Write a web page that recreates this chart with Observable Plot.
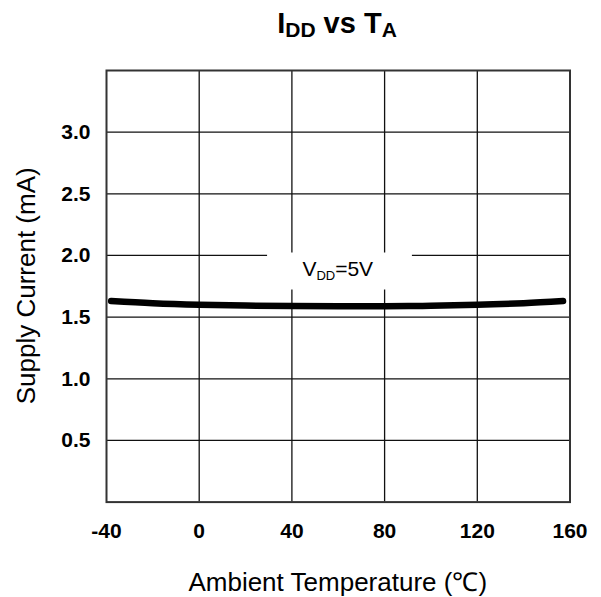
<!DOCTYPE html>
<html><head><meta charset="utf-8">
<script src="https://cdn.jsdelivr.net/npm/d3@7"></script>
<script src="https://cdn.jsdelivr.net/npm/@observablehq/plot@0.6"></script>
<style>
body{margin:0;background:#fff;font-family:"Liberation Sans",Arial,sans-serif}
svg{display:block}
</style>
</head><body>
<svg id="title" width="601" height="60" style="font-family:'Liberation Sans',Arial,sans-serif">
  <text x="337" y="33" text-anchor="middle" font-size="29" font-weight="bold" fill="#000">I<tspan font-size="21" dy="4">DD</tspan><tspan dy="-4"> vs T</tspan><tspan font-size="21" dy="4">A</tspan></text>
</svg>
<div id="chart"></div>
<script>
// data
const temps   = [-38, -20, 0, 20, 40, 60, 80, 100, 120, 140, 157];
const current = [1.630, 1.612, 1.600, 1.594, 1.590, 1.588, 1.589, 1.592, 1.600, 1.613, 1.630];
const xTicks = [-40, 0, 40, 80, 120, 160];
const xTickLabels = ["-40", "0", "40", "80", "120", "160"];
const yTicks = [0.5, 1.0, 1.5, 2.0, 2.5, 3.0];
const yTickLabels = ["0.5", "1.0", "1.5", "2.0", "2.5", "3.0"];
const xGrid = [0, 40, 80, 120];
const yGrid = [0.5, 1.0, 1.5, 2.0, 2.5, 3.0];
const xLabel = "Ambient Temperature (℃)";
const yLabel = "Supply Current (mA)";
// annotation (label "VDD=5V" and its white background box, in data units)
const noteX = [60];
const noteY = [1.83];
const noteBox = [{x1: 29.5, x2: 92, y1: 1.72, y2: 2.02}];

const data = temps.map((t, i) => ({t, c: current[i]}));
const font = "Liberation Sans, Arial, sans-serif";

const plot = Plot.plot({
  width: 601,
  height: 537,
  marginTop: 10,
  marginBottom: 95.4,
  marginLeft: 106,
  marginRight: 31.5,
  style: {fontFamily: font, color: "#000", background: "#fff"},
  x: {domain: [-40, 160]},
  y: {domain: [0, 3.5]},
  marks: [
    Plot.ruleX(xGrid, {stroke: "#111", strokeWidth: 1.3}),
    Plot.ruleY(yGrid, {stroke: "#111", strokeWidth: 1.3}),
    Plot.rect(noteBox, {x1: "x1", x2: "x2", y1: "y1", y2: "y2", fill: "#fff"}),
    Plot.line(data, {x: "t", y: "c", stroke: "#000", strokeWidth: 6.5, curve: "catmull-rom", strokeLinecap: "round"}),
    Plot.frame({stroke: "#333", strokeWidth: 2}),
    Plot.axisX(xTicks, {tickSize: 0, tickPadding: 20.5, fontSize: 21, fontWeight: "bold", label: null,
      tickFormat: d => xTickLabels[xTicks.indexOf(d)]}),
    Plot.axisY(yTicks, {tickSize: 0, tickPadding: 16, fontSize: 21, fontWeight: "bold", label: null,
      tickFormat: d => yTickLabels[yTicks.indexOf(d)]})
  ]
});
document.getElementById("chart").appendChild(plot);

const svg = d3.select(plot);
const sx = plot.scale("x"), sy = plot.scale("y");
// annotation with subscript
const note = svg.append("text")
  .attr("x", sx.apply(noteX[0])).attr("y", sy.apply(noteY[0]))
  .attr("text-anchor", "middle").attr("font-size", 21).attr("font-family", font).attr("fill", "#000");
note.append("tspan").text("V");
note.append("tspan").attr("font-size", 13).attr("dy", 4).text("DD");
note.append("tspan").attr("dy", -4).text("=5V");
// axis titles
const cx = (sx.range[0] + sx.range[1]) / 2;
const cy = (sy.range[0] + sy.range[1]) / 2;
svg.append("text").attr("x", cx).attr("y", 531).attr("text-anchor", "middle")
  .attr("font-size", 26).attr("font-family", font).attr("fill", "#000").text(xLabel);
svg.append("text").attr("transform", `translate(35,${cy}) rotate(-90)`).attr("text-anchor", "middle")
  .attr("font-size", 26).attr("font-family", font).attr("fill", "#000").text(yLabel);
</script>
</body></html>
